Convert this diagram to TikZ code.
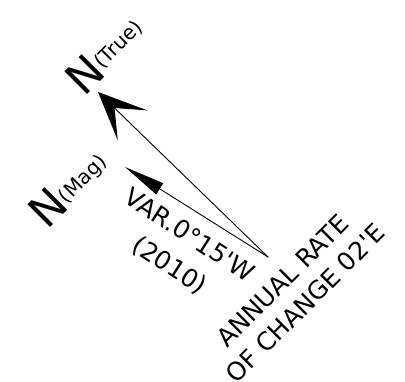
\documentclass[tikz,border=0pt]{standalone}
\usepackage{fontspec}
\setmainfont{DejaVu Sans}
\usetikzlibrary{arrows.meta}
\begin{document}
\begin{tikzpicture}[x=1pt,y=1pt,line cap=round,line join=round]
  \useasboundingbox (0,0) rectangle (405,382);
  \coordinate (O) at (268,125);
  \coordinate (T) at (98,290);
  \coordinate (M) at (125,215);
  \draw[line width=0.9pt,-{Stealth[length=48pt,width=42pt,inset=25pt]}] (O) -- (T);
  \draw[line width=0.9pt,-{Triangle[length=41pt,width=13pt]}] (O) -- (M);
  \node[rotate=45,anchor=base west,inner sep=0pt] (ntrue) at (84,284)
    {\fontsize{44}{44}\selectfont N\raisebox{7pt}{\fontsize{20}{20}\selectfont (True)}};
  \node[rotate=45,anchor=base west,inner sep=0pt] (nmag) at (47,151)
    {\fontsize{44}{44}\selectfont N\raisebox{5pt}{\fontsize{20}{20}\selectfont (Mag)}};
  \node[rotate=-33,align=center,inner sep=0pt,font=\fontsize{25}{36}\selectfont] (var) at (179,131)
    {VAR.0°15\textquotesingle W\\(2010)};
  \node[rotate=45,align=center,inner sep=0pt,font=\fontsize{25}{32}\selectfont] (rate) at (294,90)
    {ANNUAL RATE\\OF CHANGE 02\textquotesingle E};
\end{tikzpicture}
\end{document}
